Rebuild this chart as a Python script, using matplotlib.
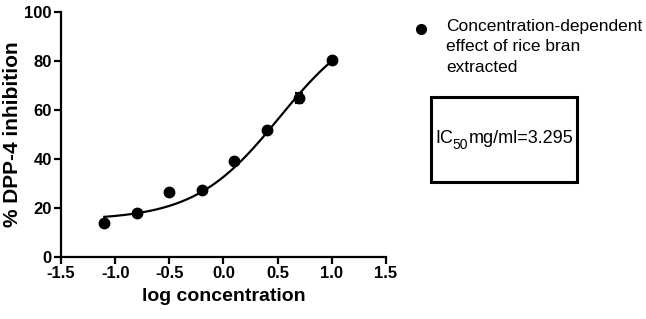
import matplotlib.pyplot as plt
import numpy as np
from matplotlib.lines import Line2D
from matplotlib.patches import Rectangle

plt.rcParams['font.family'] = ['Liberation Sans', 'DejaVu Sans']

# Data
log_conc = [-1.1, -0.8, -0.5, -0.2, 0.1, 0.4, 0.7, 1.0]
inhibition = [14.0, 18.0, 26.5, 27.5, 39.0, 52.0, 65.0, 80.5]
inhibition_err = [0, 0, 0, 0, 0, 0, 2.0, 0]

# Four-parameter logistic fit (bottom, top, logIC50, hill slope)
fit_bottom = 15.0
fit_top = 99.0
fit_log_ic50 = np.log10(3.295)
fit_hill = 1.11

legend_label = "Concentration-dependent\neffect of rice bran\nextracted"

fig = plt.figure(figsize=(6.46, 3.19), dpi=100)
ax = fig.add_axes([0.0944, 0.195, 0.503, 0.767])

x_fit = np.linspace(min(log_conc), max(log_conc), 200)
y_fit = fit_bottom + (fit_top - fit_bottom) / (1 + 10 ** ((fit_log_ic50 - x_fit) * fit_hill))
ax.plot(x_fit, y_fit, color='black', lw=1.6, zorder=2)
ax.errorbar(log_conc, inhibition, yerr=inhibition_err, fmt='o', color='black',
            ms=7.5, capsize=3, elinewidth=1.5, capthick=1.5, zorder=3)

ax.set_xlim(-1.5, 1.5)
ax.set_ylim(0, 100)
ax.set_xticks([-1.5, -1.0, -0.5, 0.0, 0.5, 1.0, 1.5])
ax.set_xticklabels(['-1.5', '-1.0', '-0.5', '0.0', '0.5', '1.0', '1.5'])
ax.set_yticks([0, 20, 40, 60, 80, 100])
for s in ['top', 'right']:
    ax.spines[s].set_visible(False)
for s in ['left', 'bottom']:
    ax.spines[s].set_linewidth(1.6)
ax.tick_params(direction='out', length=5, width=1.6, labelsize=12, pad=1.5)
for lbl in ax.get_xticklabels() + ax.get_yticklabels():
    lbl.set_fontweight('bold')
ax.set_xlabel('log concentration', fontsize=14, fontweight='bold', labelpad=5)
ax.set_ylabel('% DPP-4 inhibition', fontsize=15, fontweight='bold', labelpad=2)

# legend entry
fig.add_artist(Line2D([421 / 646], [1 - 29 / 319], transform=fig.transFigure,
                      marker='o', color='black', ms=7))
fig.text(446 / 646, 1 - 19 / 319, legend_label, fontsize=12.5, va='top', ha='left',
         linespacing=1.45)

# IC50 box
fig.add_artist(Rectangle((431 / 646, 1 - 182 / 319), 146 / 646, 85 / 319,
                         transform=fig.transFigure, fill=False, lw=2.2, ec='black'))
t1 = fig.text(435 / 646, 1 - 147 / 319, "IC", fontsize=13, va='bottom', ha='left')
a2 = ax.annotate("50", xy=(1, 0), xycoords=t1, xytext=(0, -3.5), textcoords='offset points',
                 fontsize=10, va='bottom', ha='left', annotation_clip=False)
ax.annotate("mg/ml=3.295", xy=(1, 0), xycoords=a2, xytext=(0, 3.5), textcoords='offset points',
            fontsize=13, va='bottom', ha='left', annotation_clip=False)

fig.savefig('out.png', dpi=100)
